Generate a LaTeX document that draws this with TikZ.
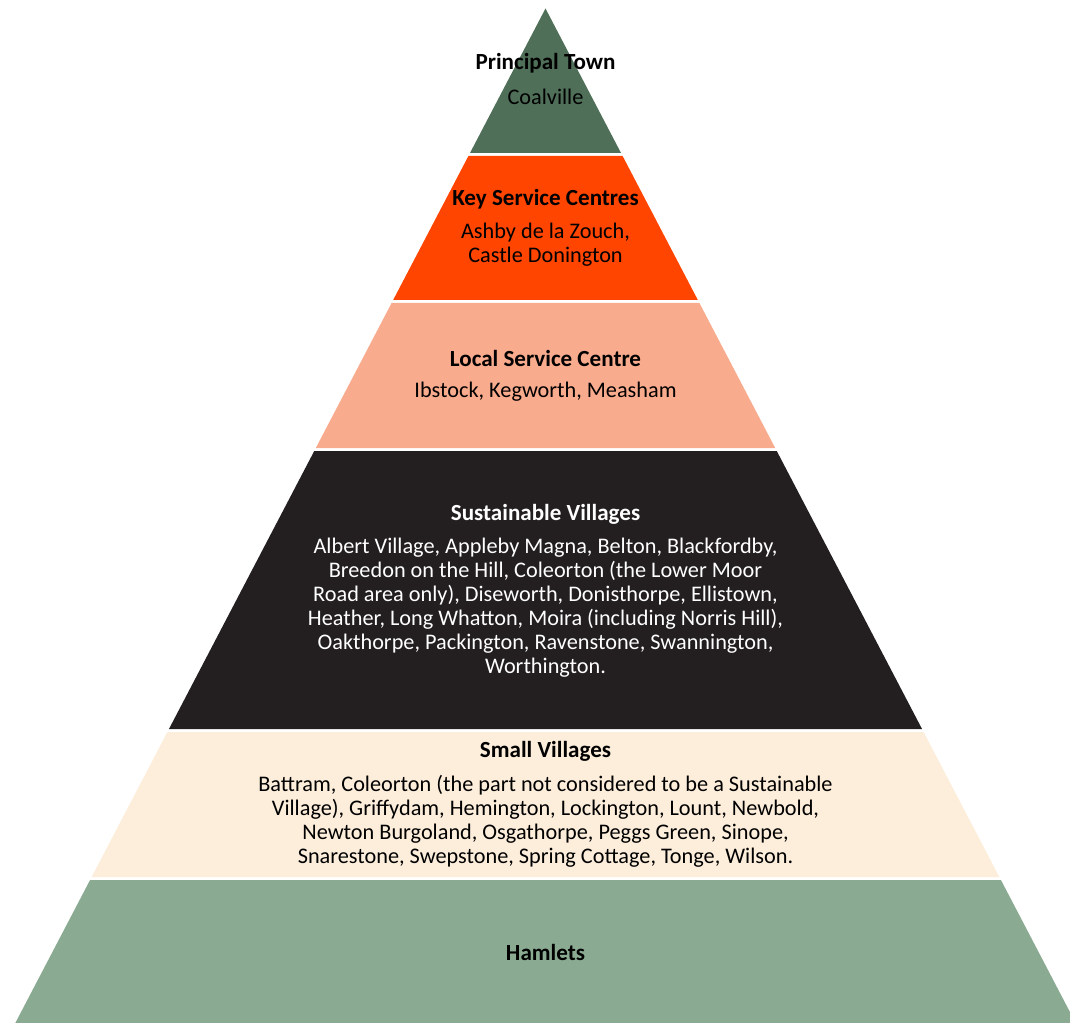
\documentclass[tikz,border=0pt]{standalone}
\usepackage{fontspec}
\setmainfont{Carlito}
\definecolor{topgreen}{HTML}{4F6F58}
\definecolor{keyorange}{HTML}{FF4500}
\definecolor{salmon}{HTML}{F9AB8D}
\definecolor{darkband}{HTML}{231F20}
\definecolor{cream}{HTML}{FDEEDB}
\definecolor{sage}{HTML}{8AAB92}
\newcommand{\pyrband}[3]{%
  \pgfmathsetmacro{\wt}{max(0,(#2-8.5)*0.5226)}%
  \pgfmathsetmacro{\wb}{(#3-8.5)*0.5226}%
  \fill[#1] (545.5-\wt,#2) -- (545.5+\wt,#2) -- (545.5+\wb,#3) -- (545.5-\wb,#3) -- cycle;}
\begin{document}
\begin{tikzpicture}[x=0.75pt,y=-0.75pt,
  txt/.style={inner sep=0pt,align=center,font=\fontsize{16.7}{18}\selectfont},
  ttl/.style={txt,font=\fontsize{17.3}{18}\selectfont\bfseries}]
\useasboundingbox (0,0) rectangle (1070,1023);
\clip (0,0) rectangle (1070,1023);
\pyrband{topgreen}{8.5}{153}
\pyrband{keyorange}{156}{300}
\pyrband{salmon}{303}{448}
\pyrband{darkband}{451}{729}
\pyrband{cream}{732}{877}
\pyrband{sage}{880}{1040}
% texts
\node[ttl] (t1) at (545.5,63) {Principal Town};
\node[txt] (b1) at (545.5,97) {Coalville};
\node[ttl] (t2) at (545.5,199) {Key Service Centres};
\node[txt] (b2) at (545.5,244.5) {Ashby de la Zouch,\\Castle Donington};
\node[ttl] (t3) at (545.5,358) {Local Service Centre};
\node[txt] (b3) at (545.5,392) {Ibstock, Kegworth, Measham};
\node[ttl,text=white] (t4) at (545.5,514) {Sustainable Villages};
\node[txt,text=white] (b4) at (545.5,608) {Albert Village, Appleby Magna, Belton, Blackfordby,\\
Breedon on the Hill, Coleorton (the Lower Moor\\
Road area only), Diseworth, Donisthorpe, Ellistown,\\
Heather, Long Whatton, Moira (including Norris Hill),\\
Oakthorpe, Packington, Ravenstone, Swannington,\\
Worthington.};
\node[ttl] (t5) at (545.5,751) {Small Villages};
\node[txt] (b5) at (545.5,821) {Battram, Coleorton (the part not considered to be a Sustainable\\
Village), Griffydam, Hemington, Lockington, Lount, Newbold,\\
Newton Burgoland, Osgathorpe, Peggs Green, Sinope,\\
Snarestone, Swepstone, Spring Cottage, Tonge, Wilson.};
\node[ttl] (t6) at (545.5,952) {Hamlets};
\end{tikzpicture}
\end{document}
